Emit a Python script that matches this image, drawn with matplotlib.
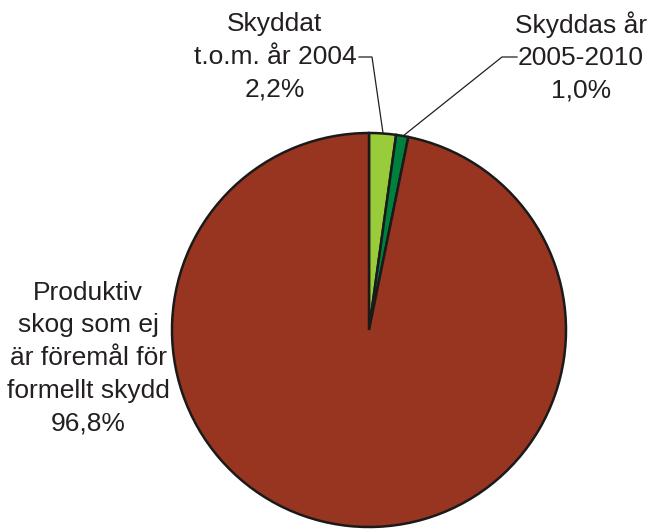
import matplotlib
matplotlib.use("Agg")
import matplotlib.pyplot as plt

categories = ["Skyddat\nt.o.m. år 2004", "Skyddas år\n2005-2010", "Produktiv\nskog som ej\när föremål för\nformellt skydd"]
values = [2.2, 1.0, 96.8]
pct_labels = ["2,2%", "1,0%", "96,8%"]
colors = ["#99CC3A", "#00803E", "#983520"]

W, H = 650, 529
fig = plt.figure(figsize=(W / 100, H / 100), dpi=100)
ax = fig.add_axes([0, 0, 1, 1])

cx, cy, r = 369, 330, 197
wedges, _ = ax.pie(values, colors=colors, startangle=90, counterclock=False,
                   center=(cx, -cy), radius=r,
                   wedgeprops=dict(edgecolor="#1a1a1a", linewidth=1.8))

font = dict(family=["Liberation Sans", "DejaVu Sans"], fontsize=19, color="#231F20",
            ha="center", va="center", linespacing=1.45)

ax.text(275, -57, categories[0] + "\n" + pct_labels[0], **font)
ax.text(581, -57, categories[1] + "\n" + pct_labels[1], **font)
ax.text(88, -358, categories[2] + "\n" + pct_labels[2], **font)

lk = dict(color="#231F20", linewidth=0.9)
ax.plot([359, 372, 383], [-57, -57, -133], **lk)
ax.plot([517, 502, 403], [-57, -57, -136], **lk)

ax.set_xlim(0, W)
ax.set_ylim(-H, 0)
ax.set_aspect("equal")
ax.axis("off")

fig.savefig("out.png", dpi=100)
